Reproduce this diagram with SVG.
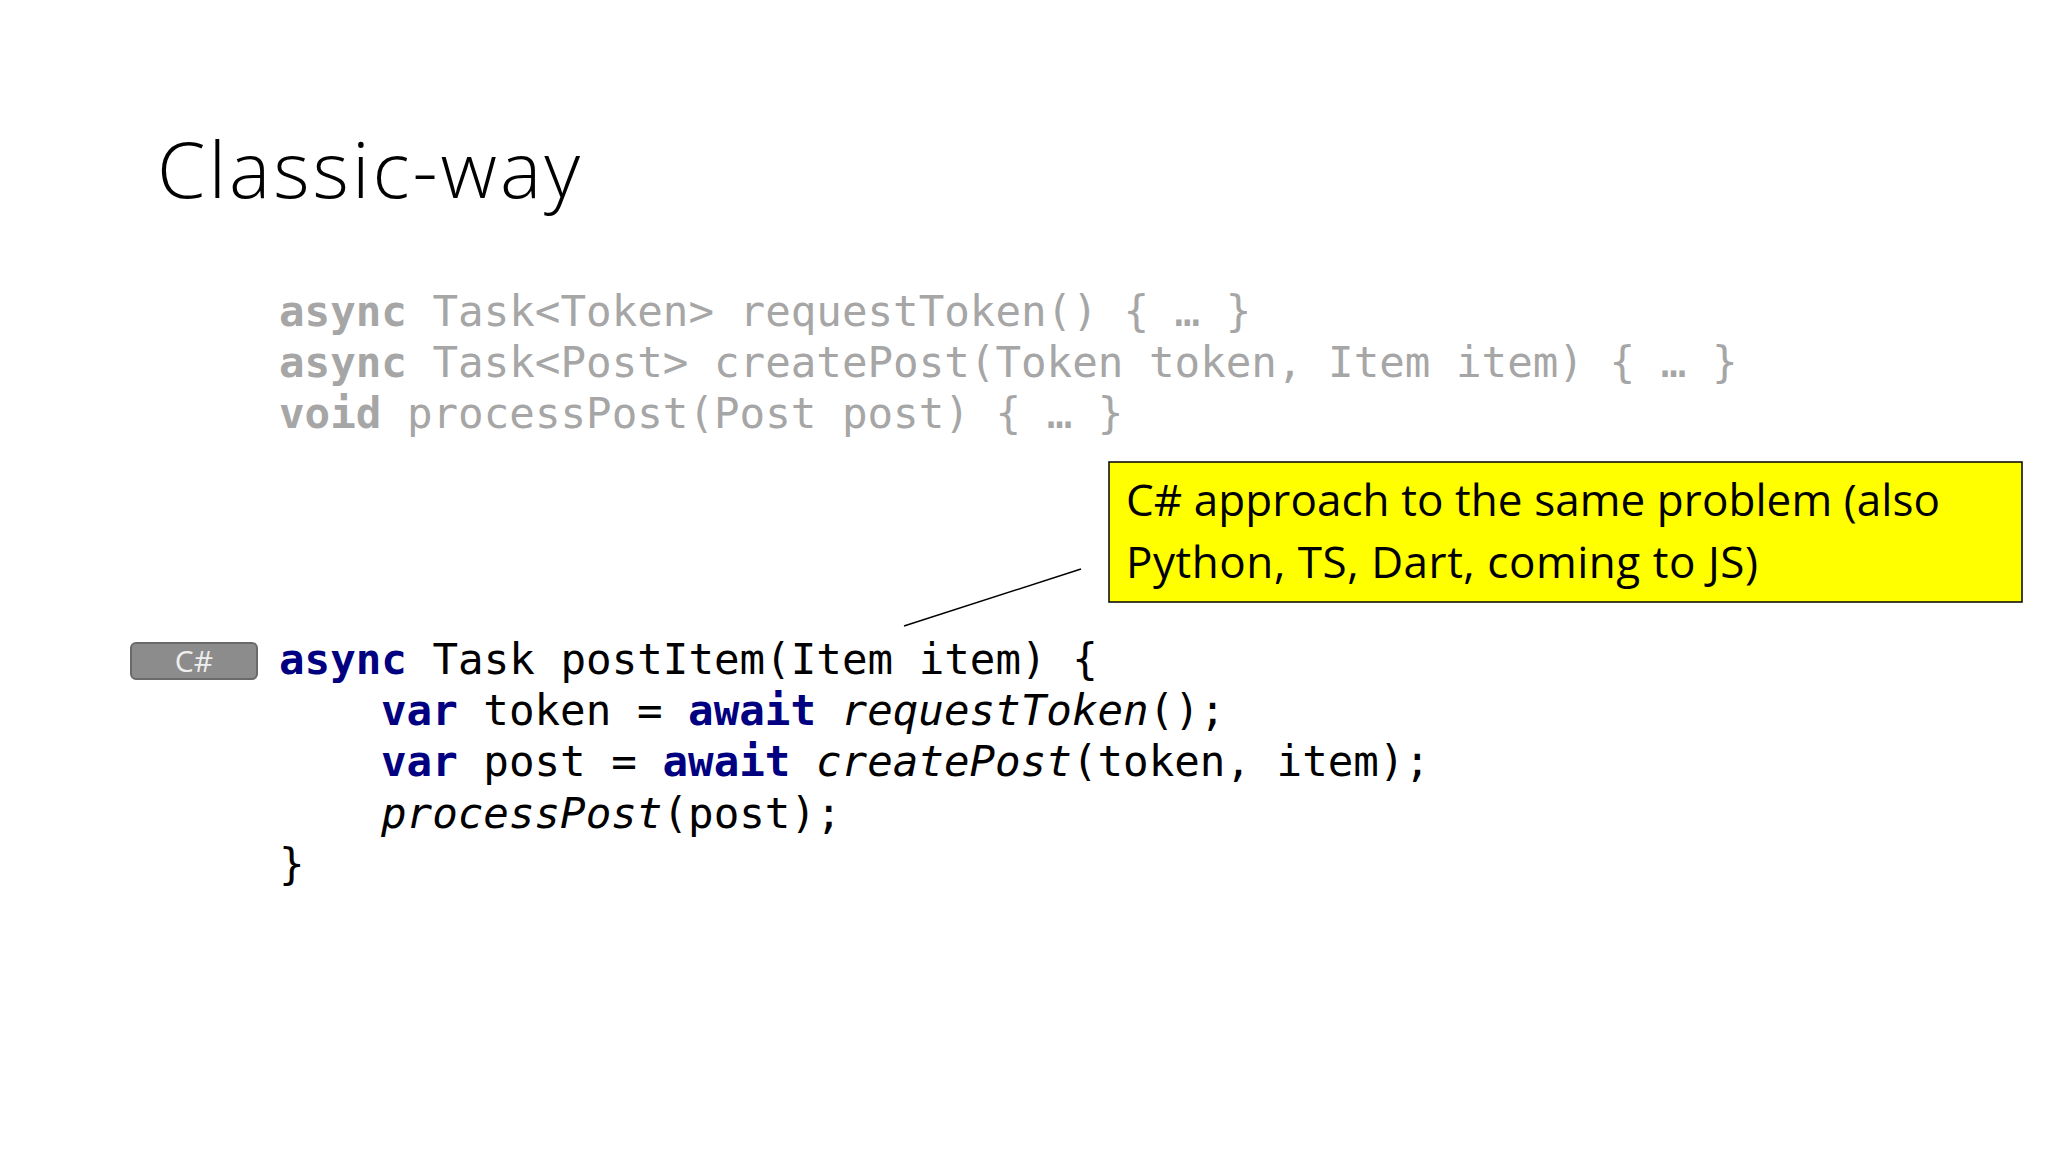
<svg xmlns="http://www.w3.org/2000/svg" width="2048" height="1152" viewBox="0 0 2048 1152">
<style>
.code{font-family:"DejaVu Sans Mono",monospace;font-size:42.5px;white-space:pre}
.grey{fill:#a6a6a6}
.kw{font-weight:bold}
.nav{fill:#000080;font-weight:bold}
.it{font-style:italic}
.note{font-family:"Open Sans","Liberation Sans",sans-serif;font-size:44px;fill:#000}
</style>
<rect width="2048" height="1152" fill="#fff"/>
<text x="157" y="198" font-family="Open Sans, sans-serif" font-weight="300" font-size="78" textLength="423" fill="#000">Classic-way</text>
<g id="signatures" class="code grey">
<text x="279" y="326"><tspan class="kw">async</tspan> Task&lt;Token&gt; requestToken() { … }</text>
<text x="279" y="377"><tspan class="kw">async</tspan> Task&lt;Post&gt; createPost(Token token, Item item) { … }</text>
<text x="279" y="428"><tspan class="kw">void</tspan> processPost(Post post) { … }</text>
</g>
<g id="connectors"><line x1="904" y1="626" x2="1081" y2="569" stroke="#000" stroke-width="1.5"/></g>
<g id="note">
<rect x="1109" y="462" width="913" height="140" fill="#ffff00" stroke="#000" stroke-width="1.5"/>
<text class="note" x="1126" y="516" textLength="814">C# approach to the same problem (also</text>
<text class="note" x="1126" y="578" textLength="632">Python, TS, Dart, coming to JS)</text>
</g>
<g id="badge">
<rect x="131" y="643" width="126" height="36" rx="5" fill="#8c8c8c" stroke="#6a6a6a" stroke-width="2"/>
<text x="194" y="672" text-anchor="middle" font-family="Open Sans, sans-serif" font-size="30" fill="#eee">C#</text>
</g>
<g id="code" class="code">
<text x="279" y="674"><tspan class="nav">async</tspan> Task postItem(Item item) {</text>
<text x="381" y="725"><tspan class="nav">var</tspan> token = <tspan class="nav">await</tspan> <tspan class="it">requestToken</tspan>();</text>
<text x="381" y="776"><tspan class="nav">var</tspan> post = <tspan class="nav">await</tspan> <tspan class="it">createPost</tspan>(token, item);</text>
<text x="381" y="828"><tspan class="it">processPost</tspan>(post);</text>
<text x="279" y="879">}</text>
</g>
</svg>
